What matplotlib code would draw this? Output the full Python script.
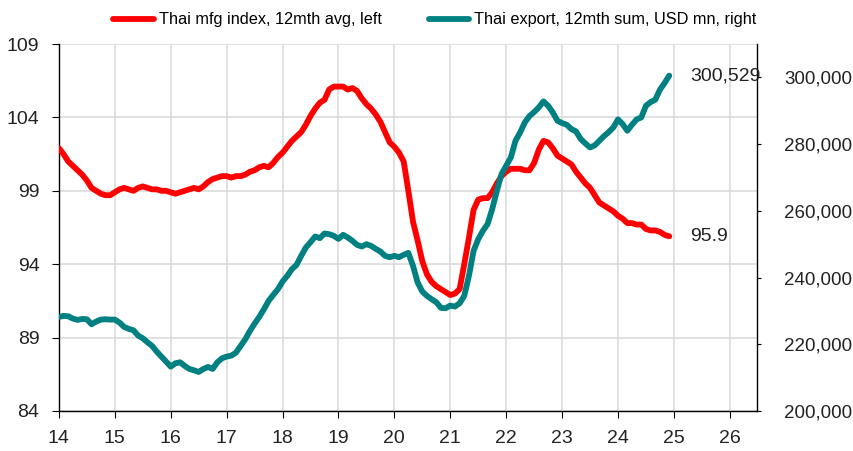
import numpy as np
import matplotlib
matplotlib.use("Agg")
from matplotlib import pyplot as plt
from matplotlib.ticker import FuncFormatter

plt.rcParams['font.family'] = ['Liberation Sans', 'DejaVu Sans']

# Thai manufacturing index, 12mth avg (left axis), monthly Jan 2014 - Dec 2024
mfg_index = [
    101.9, 101.5, 101.0, 100.7, 100.4, 100.1, 99.7, 99.2, 99.0, 98.8, 98.7, 98.7,   # 2014
    98.9, 99.1, 99.2, 99.1, 99.0, 99.2, 99.3, 99.2, 99.1, 99.1, 99.0, 99.0,         # 2015
    98.9, 98.8, 98.9, 99.0, 99.1, 99.2, 99.1, 99.3, 99.6, 99.8, 99.9, 100.0,        # 2016
    100.0, 99.9, 100.0, 100.0, 100.1, 100.3, 100.4, 100.6, 100.7, 100.6, 100.9, 101.3,  # 2017
    101.6, 102.0, 102.4, 102.7, 103.0, 103.5, 104.1, 104.6, 105.0, 105.2, 105.9, 106.1,  # 2018
    106.1, 106.1, 105.9, 106.0, 105.8, 105.3, 104.9, 104.6, 104.2, 103.7, 103.0, 102.3,  # 2019
    102.0, 101.6, 101.0, 99.0, 96.9, 95.6, 94.2, 93.3, 92.8, 92.5, 92.3, 92.1,      # 2020
    91.9, 92.0, 92.3, 94.0, 95.8, 97.7, 98.4, 98.5, 98.5, 98.9, 99.5, 100.0,        # 2021
    100.3, 100.5, 100.5, 100.5, 100.4, 100.4, 100.9, 101.8, 102.4, 102.3, 101.9, 101.4,  # 2022
    101.2, 101.0, 100.8, 100.3, 99.9, 99.5, 99.2, 98.7, 98.2, 98.0, 97.8, 97.6,     # 2023
    97.3, 97.1, 96.8, 96.8, 96.7, 96.7, 96.4, 96.3, 96.3, 96.2, 96.0, 95.9,         # 2024
]

# Thai export, 12mth sum, USD mn (right axis), in thousands of USD mn
export_k = [
    228.2, 228.5, 228.4, 227.7, 227.3, 227.6, 227.5, 226.0, 226.8, 227.4, 227.5, 227.4,  # 2014
    227.4, 226.5, 225.2, 224.6, 224.2, 222.6, 221.8, 220.6, 219.5, 217.8, 216.3, 214.8,  # 2015
    213.3, 214.3, 214.6, 213.5, 212.6, 212.2, 211.7, 212.6, 213.2, 212.6, 214.6, 215.8,  # 2016
    216.3, 216.6, 217.5, 219.5, 221.5, 224.0, 226.2, 228.2, 230.5, 233.0, 234.8, 236.5,  # 2017
    238.8, 240.5, 242.5, 243.8, 246.5, 249.0, 250.6, 252.3, 251.8, 253.2, 253.0, 252.5,  # 2018
    251.6, 252.8, 252.0, 251.0, 249.8, 249.3, 250.0, 249.5, 248.6, 247.8, 246.5, 246.1,  # 2019
    246.5, 246.1, 246.8, 247.4, 243.5, 238.5, 235.8, 234.5, 233.5, 232.6, 230.9, 230.8,  # 2020
    231.6, 231.3, 232.3, 234.5, 240.5, 248.0, 251.5, 254.0, 256.0, 260.5, 266.0, 271.0,  # 2021
    273.5, 276.0, 281.0, 283.5, 286.5, 288.4, 289.6, 291.0, 292.8, 291.5, 289.5, 287.0,  # 2022
    286.3, 285.8, 284.5, 283.8, 281.5, 280.2, 279.0, 279.6, 281.0, 282.4, 283.6, 285.0,  # 2023
    287.4, 286.0, 284.0, 285.8, 287.4, 288.0, 291.5, 292.6, 293.3, 296.3, 298.3, 300.529,  # 2024
]

year_ticks = list(range(14, 27))
left_ticks = [84, 89, 94, 99, 104, 109]
right_ticks = [200000, 220000, 240000, 260000, 280000, 300000]

months = 14 + np.arange(len(mfg_index)) / 12
exports = np.array(export_k) * 1000

red = '#FF0000'
teal = '#008080'
grid_col = '#D9D9D9'
txt = '#222222'

fig = plt.figure(figsize=(8.54, 4.51), dpi=100)
ax = fig.add_axes([0.069, 0.0887, 0.817, 0.8137])
ax2 = ax.twinx()

l1, = ax.plot(months, mfg_index, color=red, lw=4.2, solid_capstyle='round',
              label='Thai mfg index, 12mth avg, left', zorder=3)
l2, = ax2.plot(months, exports, color=teal, lw=4.2, solid_capstyle='round',
               label='Thai export, 12mth sum, USD mn, right', zorder=3)

ax.set_xlim(14, 26.48)
ax.set_ylim(84, 109)
ax2.set_ylim(200000, 310000)
ax.set_xticks(year_ticks)
ax.set_yticks(left_ticks)
ax2.set_yticks(right_ticks)
ax2.yaxis.set_major_formatter(FuncFormatter(lambda v, p: f'{v:,.0f}'))

ax.grid(True, color=grid_col, lw=1.1)
ax.set_axisbelow(True)
for a in (ax, ax2):
    a.spines['top'].set_visible(False)
    for s in ('left', 'right', 'bottom'):
        a.spines[s].set_color('black')
        a.spines[s].set_linewidth(1.0)
ax.spines['right'].set_visible(False)
ax2.spines['left'].set_visible(False)
ax2.spines['bottom'].set_visible(False)

ax.tick_params(axis='y', labelsize=14, length=5, pad=9, colors=txt)
ax.tick_params(axis='x', labelsize=14, length=5, pad=9, colors=txt)
ax2.tick_params(axis='y', labelsize=13.5, length=3, pad=17, colors=txt)
for a in (ax, ax2):
    a.tick_params(color='black')

# end labels
ax.text(months[-1] + 0.37, mfg_index[-1], f'{mfg_index[-1]:.1f}', fontsize=14,
        va='center', ha='left', color=txt)
ax2.text(months[-1] + 0.37, exports[-1], f'{exports[-1]:,.0f}', fontsize=14,
         va='center', ha='left', color=txt, zorder=5)

fig.legend(handles=[l1, l2], loc='center', bbox_to_anchor=(0.509, 0.956), ncol=2,
           frameon=False, handlelength=2.5, handletextpad=0.3, columnspacing=2.9,
           prop={'size': 11.7})

fig.savefig('out.png', dpi=100)
